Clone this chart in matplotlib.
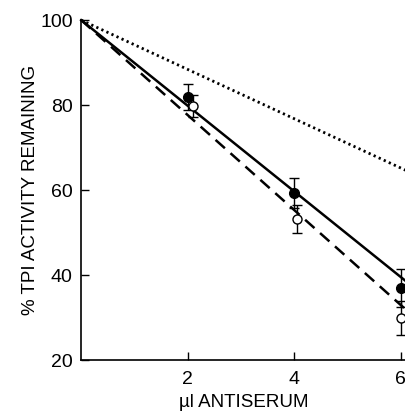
import numpy as np
import matplotlib
matplotlib.use('Agg')
import matplotlib.pyplot as plt

plt.rcParams['font.family'] = ['Liberation Sans', 'DejaVu Sans']

# Data
dose = [2, 4, 6]
filled_y = [81.9, 59.3, 36.9]
filled_err = [3.0, 3.5, 4.5]
open_x = [2.1, 4.05, 6.0]
open_y = [79.8, 53.2, 29.9]
open_err = [2.5, 3.2, 4.0]

# fitted lines (start, end)
line_x = [0, 6.1]
solid_y = [100, 38.5]
dashed_y = [100, 31.8]
dotted_y = [100, 64.6]

fig = plt.figure(figsize=(4.06, 4.16), dpi=100)
ax = fig.add_axes([0.2, 0.1346, 0.8005, 0.817])

ax.plot(line_x, solid_y, 'k-', lw=1.8, clip_on=False)
ax.plot(line_x, dashed_y, 'k--', lw=1.8, dashes=(5, 3), clip_on=False)
ax.plot(line_x, dotted_y, 'k:', lw=2.0, dashes=(0.8, 1.2), clip_on=False)

ax.errorbar(dose, filled_y, yerr=filled_err, fmt='o', color='k', ms=7,
            capsize=3.5, elinewidth=1, capthick=1, clip_on=False, zorder=5)
ax.errorbar(open_x, open_y, yerr=open_err, fmt='o', mfc='white', mec='k',
            ecolor='k', ms=6.5, capsize=3.5, elinewidth=1, capthick=1,
            clip_on=False, zorder=5)

ax.set_xlim(0, 6.1)
ax.set_ylim(20, 100)
ax.set_xticks([2, 4, 6])
ax.set_yticks([20, 40, 60, 80, 100])
ax.tick_params(direction='in', length=6, width=1, labelsize=14)
ax.tick_params(axis='x', pad=8)
ax.tick_params(axis='y', pad=6)
for s in ['top', 'right']:
    ax.spines[s].set_visible(False)
for s in ['left', 'bottom']:
    ax.spines[s].set_linewidth(1.2)

ax.set_xlabel('\u00b5l ANTISERUM', fontsize=13.5, labelpad=4)
ax.set_ylabel('% TPI ACTIVITY REMAINING', fontsize=13.5, labelpad=1)

plt.savefig('out.png', dpi=100)
